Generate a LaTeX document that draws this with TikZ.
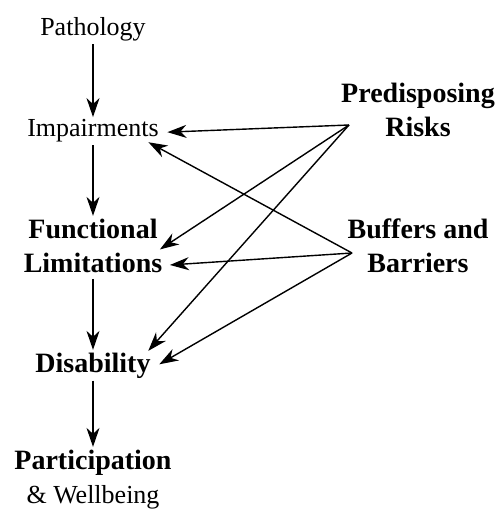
\documentclass[tikz,border=0pt]{standalone}
\usepackage{fontspec}
\setmainfont{Liberation Serif}
\usetikzlibrary{calc}
\usetikzlibrary{arrows.meta}
\newcommand*{\lcol }{93}
\newcommand*{\rcol }{418}
\newcommand*{\plain}{\fontsize{26}{34}\selectfont}
\newcommand*{\heavy}{\fontsize{28}{34}\selectfont\bfseries}

\begin{document}
\begin{tikzpicture}[x=1pt, y=-1pt, inner sep=2pt, line width=1.4pt,
        >={Stealth[length=19pt, width=13pt, inset=6pt]},
        lbl/.style={anchor=base, align=center}]
        \useasboundingbox (0,0) rectangle (497,510);
        \node [lbl, font=\plain] (path)   at (\lcol, 36)  {Pathology};
        \node [lbl, font=\plain] (impair) at (\lcol,137)  {Impairments};
        \node [lbl, font=\heavy] (func)   at (\lcol,272)  {Functional\\Limitations};
        \node [lbl, font=\heavy] (dis)    at (\lcol,372)  {Disability};
        \node [lbl, font=\heavy] (part)   at (\lcol,503)  {Participation\\{\plain\mdseries\& Wellbeing}};
        \node [lbl, font=\heavy] (risk)   at (\rcol,137)  {Predisposing\\Risks};
        \node [lbl, font=\heavy] (buf)    at (\rcol,272)  {Buffers and\\Barriers};
        \coordinate (riskpt) at (349,125);
        \coordinate (bufpt)  at (352,253);
        \draw [->] (path.south)   -- (impair.north);
        \draw [->] (impair.south) -- (func.north);
        \draw [->] ([yshift=-4pt]func.south) -- (dis.north);
        \draw [->] (dis.south)    -- (part.north);
        \draw [->] (riskpt) -- ($(impair.east)+(6,1)$);
        \draw [->] (riskpt) -- ($(func.east)+(-5,4)$);
        \draw [->] (riskpt) -- ($(dis.north east)+(-5,1)$);
        \draw [->] (bufpt)  -- ($(impair.south east)+(-13,-3)$);
        \draw [->] (bufpt)  -- ($(func.south east)+(5,-10)$);
        \draw [->] (bufpt)  -- ($(dis.east)+(6,-1)$);
    \end{tikzpicture}
\end{document}
